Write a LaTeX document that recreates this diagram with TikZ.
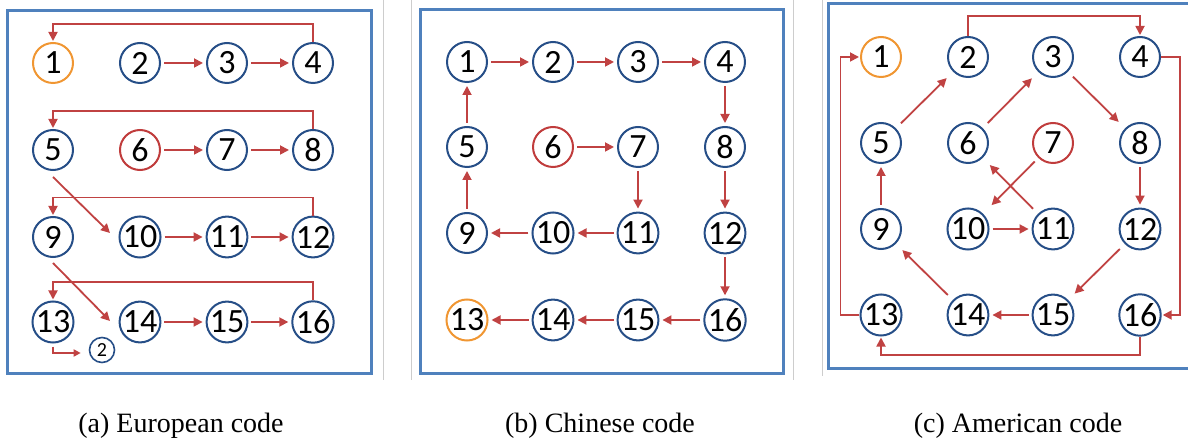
\documentclass[tikz,border=0pt]{standalone}
\usepackage{fontspec}
\setmainfont{Liberation Serif}
\newfontfamily\numfont{Carlito}
\usetikzlibrary{arrows.meta,calc}
\definecolor{cblue}{RGB}{38,78,135}
\definecolor{corange}{RGB}{240,150,50}
\definecolor{cred}{RGB}{192,60,60}
\definecolor{carrow}{RGB}{192,66,66}
\definecolor{cbox}{RGB}{79,129,189}
\definecolor{cgrey}{RGB}{205,205,205}
\begin{document}
\begin{tikzpicture}[x=1pt,y=-1pt,
  nd/.style={circle,draw=cblue,line width=2pt,minimum size=40pt,inner sep=0pt,
    font=\numfont\fontsize{34}{34}\selectfont},
  ndo/.style={nd,draw=corange},
  ndr/.style={nd,draw=cred},
  arr/.style={draw=carrow,line width=1.8pt,-{Triangle[length=9pt,width=9pt]},shorten >=3pt,shorten <=3pt},
  darr/.style={arr,shorten >=9pt,shorten <=7pt},
  fback/.style={draw=carrow,line width=1.8pt,-{Triangle[length=9pt,width=9pt]},shorten >=1pt},
  panel/.style={draw=cbox,line width=3pt},
  sepline/.style={draw=cgrey,line width=1pt},
  captext/.style={font=\fontsize{28}{28}\selectfont,anchor=base}]
\useasboundingbox (0,0) rectangle (1188,443);
% separators and panel boxes
\draw[sepline] (383,0) -- (383,380);
\draw[sepline] (411,0) -- (411,380);
\draw[sepline] (793,0) -- (793,380);
\draw[sepline] (822,0) -- (822,376);
\draw[panel] (7,11) rectangle (371,373);
\draw[panel] (420,10) rectangle (783,373);
\draw[panel] (828,4) rectangle (1195,368);

% ---------- (a) European code ----------
\node[ndo] (a1) at (53,63) {1};
\node[nd] (a2) at (140,63) {2};
\node[nd] (a3) at (227,63) {3};
\node[nd] (a4) at (313,63) {4};
\node[nd] (a5) at (53,150) {5};
\node[ndr] (a6) at (140,150) {6};
\node[nd] (a7) at (227,150) {7};
\node[nd] (a8) at (313,150) {8};
\node[nd] (a9) at (53,237) {9};
\node[nd] (a10) at (140,237) {10};
\node[nd] (a11) at (227,237) {11};
\node[nd] (a12) at (313,237) {12};
\node[nd] (a13) at (53,322) {13};
\node[nd] (a14) at (140,322) {14};
\node[nd] (a15) at (227,322) {15};
\node[nd] (a16) at (313,322) {16};
\node[circle,draw=cblue,line width=1.6pt,minimum size=25pt,inner sep=0pt,
  font=\numfont\fontsize{20}{20}\selectfont] (asmall) at (102,350) {2};
\foreach \p/\q in {a2/a3,a3/a4,a6/a7,a7/a8,a10/a11,a11/a12,a14/a15,a15/a16}
  \draw[arr] (\p) -- (\q);
\draw[fback] (a4.north) -- ++(0,-18) -| (a1.north);
\draw[fback] (a8.north) -- ++(0,-18) -| (a5.north);
\draw[fback] (a12.north) -- ++(0,-18) -| (a9.north);
\draw[fback] (a16.north) -- ++(0,-18) -| (a13.north);
\draw[arr,shorten <=0pt,shorten >=0pt] ($(a5)+(0,27)$) -- ($(a10)+(-30,-4)$);
\draw[arr,shorten <=0pt,shorten >=0pt] ($(a9)+(0,26)$) -- ($(a14)+(-30,-1)$);
\coordinate (asm) at ($(a13.south)+(0,3)$);
\draw[draw=carrow,line width=1.8pt,-{Triangle[length=7pt,width=7pt]}] (asm) |- ($(asmall.west)+(-8,3)$);

% ---------- (b) Chinese code ----------
\node[nd] (b1) at (467,62) {1};
\node[nd] (b2) at (553,62) {2};
\node[nd] (b3) at (638,62) {3};
\node[nd] (b4) at (725,62) {4};
\node[nd] (b5) at (467,147) {5};
\node[ndr] (b6) at (553,147) {6};
\node[nd] (b7) at (638,147) {7};
\node[nd] (b8) at (725,147) {8};
\node[nd] (b9) at (467,233) {9};
\node[nd] (b10) at (553,233) {10};
\node[nd] (b11) at (638,233) {11};
\node[nd] (b12) at (725,233) {12};
\node[ndo] (b13) at (467,320) {13};
\node[nd] (b14) at (553,320) {14};
\node[nd] (b15) at (638,320) {15};
\node[nd] (b16) at (725,320) {16};
\foreach \p/\q in {b1/b2,b2/b3,b3/b4,b4/b8,b8/b12,b12/b16,b16/b15,b15/b14,b14/b13,
                   b11/b10,b10/b9,b9/b5,b5/b1,b6/b7,b7/b11}
  \draw[arr] (\p) -- (\q);

% ---------- (c) American code ----------
\node[ndo] (c1) at (881,57) {1};
\node[nd] (c2) at (968,57) {2};
\node[nd] (c3) at (1053,57) {3};
\node[nd] (c4) at (1140,57) {4};
\node[nd] (c5) at (881,143) {5};
\node[nd] (c6) at (968,143) {6};
\node[ndr] (c7) at (1053,143) {7};
\node[nd] (c8) at (1140,143) {8};
\node[nd] (c9) at (881,229) {9};
\node[nd] (c10) at (968,229) {10};
\node[nd] (c11) at (1053,229) {11};
\node[nd] (c12) at (1140,229) {12};
\node[nd] (c13) at (881,315) {13};
\node[nd] (c14) at (968,315) {14};
\node[nd] (c15) at (1053,315) {15};
\node[nd] (c16) at (1140,315) {16};
\foreach \p/\q in {c8/c12,c9/c5,c10/c11,c15/c14}
  \draw[arr] (\p) -- (\q);
\foreach \p/\q in {c5/c2,c6/c3,c3/c8,c12/c15,c14/c9}
  \draw[darr] (\p) -- (\q);
\draw[arr,shorten <=5pt,shorten >=12pt] (c7) -- (c10);
\draw[arr,shorten <=7pt,shorten >=10pt] (c11) -- (c6);
\draw[fback] (c2.north) -- ++(0,-20) -| (c4.north);
\draw[fback] (c4.east) -- ++(19,0) |- (c16.east);
\draw[fback] (c16.south) -- ++(0,18) -| (c13.south);
\draw[fback] (c13.west) -- ++(-19,0) |- (c1.west);

% ---------- captions ----------
\node[captext] (capa) at (181,432) {(a) European code};
\node[captext] (capb) at (600,432) {(b) Chinese code};
\node[captext] (capc) at (1018,432) {(c) American code};
\end{tikzpicture}
\end{document}
